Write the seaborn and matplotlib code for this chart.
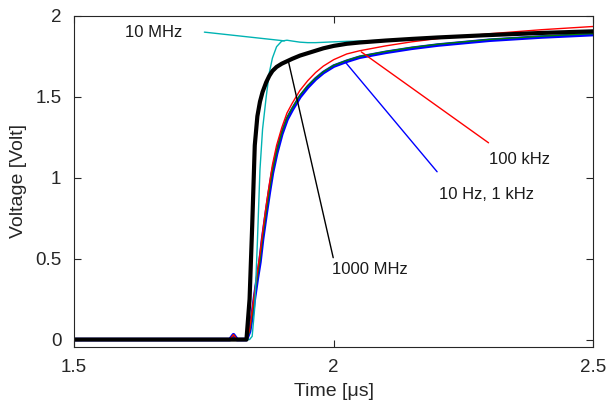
import pandas as pd
import matplotlib
matplotlib.use('Agg')
import matplotlib.pyplot as plt
import seaborn as sns

# time axis (us), shared by all the traces
time_us = [1.5, 1.8, 1.807, 1.814, 1.832, 1.838, 1.843, 1.848, 1.853, 1.858,
           1.863, 1.87, 1.876, 1.882, 1.89, 1.9, 1.91, 1.92, 1.935, 1.95,
           1.965, 1.98, 2.0, 2.025, 2.05, 2.1, 2.15, 2.2, 2.3, 2.4, 2.5]

# voltage traces (Volt)
v_10hz = [0, 0, 0.03, 0, 0, 0.05, 0.15, 0.27, 0.38, 0.48,
          0.62, 0.78, 0.91, 1.03, 1.15, 1.27, 1.36, 1.42, 1.50, 1.56,
          1.61, 1.65, 1.69, 1.72, 1.745, 1.775, 1.80, 1.82, 1.85, 1.87, 1.885]
v_1khz = [0, 0, 0.03, 0, 0, 0.05, 0.15, 0.28, 0.39, 0.49,
          0.63, 0.79, 0.92, 1.04, 1.16, 1.28, 1.37, 1.43, 1.51, 1.57,
          1.615, 1.655, 1.695, 1.725, 1.75, 1.78, 1.805, 1.825, 1.855, 1.875, 1.891]
v_100khz = [0, 0, 0.03, 0, 0, 0.06, 0.18, 0.30, 0.42, 0.53,
            0.66, 0.83, 0.96, 1.08, 1.20, 1.31, 1.40, 1.46, 1.54, 1.60,
            1.65, 1.69, 1.73, 1.765, 1.785, 1.815, 1.84, 1.86, 1.89, 1.915, 1.935]
v_10mhz = [0, 0, 0, 0, 0, 0, 0.02, 0.2, 0.6, 1.05,
           1.3, 1.50, 1.65, 1.74, 1.81, 1.845, 1.85, 1.845, 1.838, 1.835,
           1.835, 1.837, 1.84, 1.843, 1.845, 1.85, 1.86, 1.868, 1.882, 1.895, 1.905]
v_1000mhz = [0, 0, 0, 0, 0, 0.25, 0.7, 1.2, 1.38, 1.47,
             1.53, 1.59, 1.63, 1.66, 1.685, 1.705, 1.72, 1.735, 1.755, 1.77,
             1.785, 1.80, 1.815, 1.828, 1.836, 1.848, 1.858, 1.867, 1.882, 1.895, 1.905]

x_ticks = [1.5, 2, 2.5]
x_tick_labels = ['1.5', '2', '2.5']
y_ticks = [0, 0.5, 1, 1.5, 2]
y_tick_labels = ['0', '0.5', '1', '1.5', '2']

df = pd.DataFrame({'time': time_us, '10 Hz': v_10hz, '1 kHz': v_1khz,
                   '100 kHz': v_100khz, '10 MHz': v_10mhz,
                   '1000 MHz': v_1000mhz})

sns.set_theme(style='ticks')
plt.rcParams['font.family'] = ['Liberation Sans', 'DejaVu Sans']

fig = plt.figure(figsize=(6.09, 4.09), dpi=100)
ax = fig.add_axes([0.1215, 0.152, 0.853, 0.809])

# (column, colour, width) in drawing order
styles = [('10 Hz', '#0000ff', 2.6),
          ('1 kHz', '#008000', 1.0),
          ('100 kHz', '#ff0000', 1.0),
          ('10 MHz', '#00b3b3', 1.0),
          ('1000 MHz', '#000000', 3.0)]
for col, c, lw in styles:
    sns.lineplot(data=df, x='time', y=col, color=c, linewidth=lw,
                 estimator=None, ax=ax)

ax.set_xlim(1.5, 2.5)
ax.set_ylim(-0.045, 2.0)
ax.set_xticks(x_ticks)
ax.set_xticklabels(x_tick_labels)
ax.set_yticks(y_ticks)
ax.set_yticklabels(y_tick_labels)
ax.tick_params(direction='in', length=5, width=0.8, top=True, right=True,
               labelsize=13.5, colors='#262626')
ax.tick_params(axis='x', pad=9)
ax.tick_params(axis='y', pad=9)
for s in ax.spines.values():
    s.set_color('#262626')
    s.set_linewidth(0.8)

ax.set_xlabel('Time [μs]', fontsize=14, color='#262626', labelpad=5)
ax.set_ylabel('Voltage [Volt]', fontsize=14, color='#262626', labelpad=6)

# callouts
ann = dict(fontsize=12, color='#1a1a1a', va='center', ha='left')
ax.text(1.598, 1.90, '10 MHz', **ann)
ax.plot([1.751, 1.905], [1.90, 1.846], color='#00b3b3', lw=1)
ax.text(1.997, 0.43, '1000 MHz', **ann)
ax.plot([1.913, 1.999], [1.716, 0.506], color='black', lw=1)
ax.text(2.203, 0.895, '10 Hz, 1 kHz', **ann)
ax.plot([2.022, 2.199], [1.716, 1.037], color='#0000ff', lw=1)
ax.text(2.298, 1.11, '100 kHz', **ann)
ax.plot([2.053, 2.298], [1.778, 1.216], color='#ff0000', lw=1)

plt.savefig('out.png', dpi=100)
